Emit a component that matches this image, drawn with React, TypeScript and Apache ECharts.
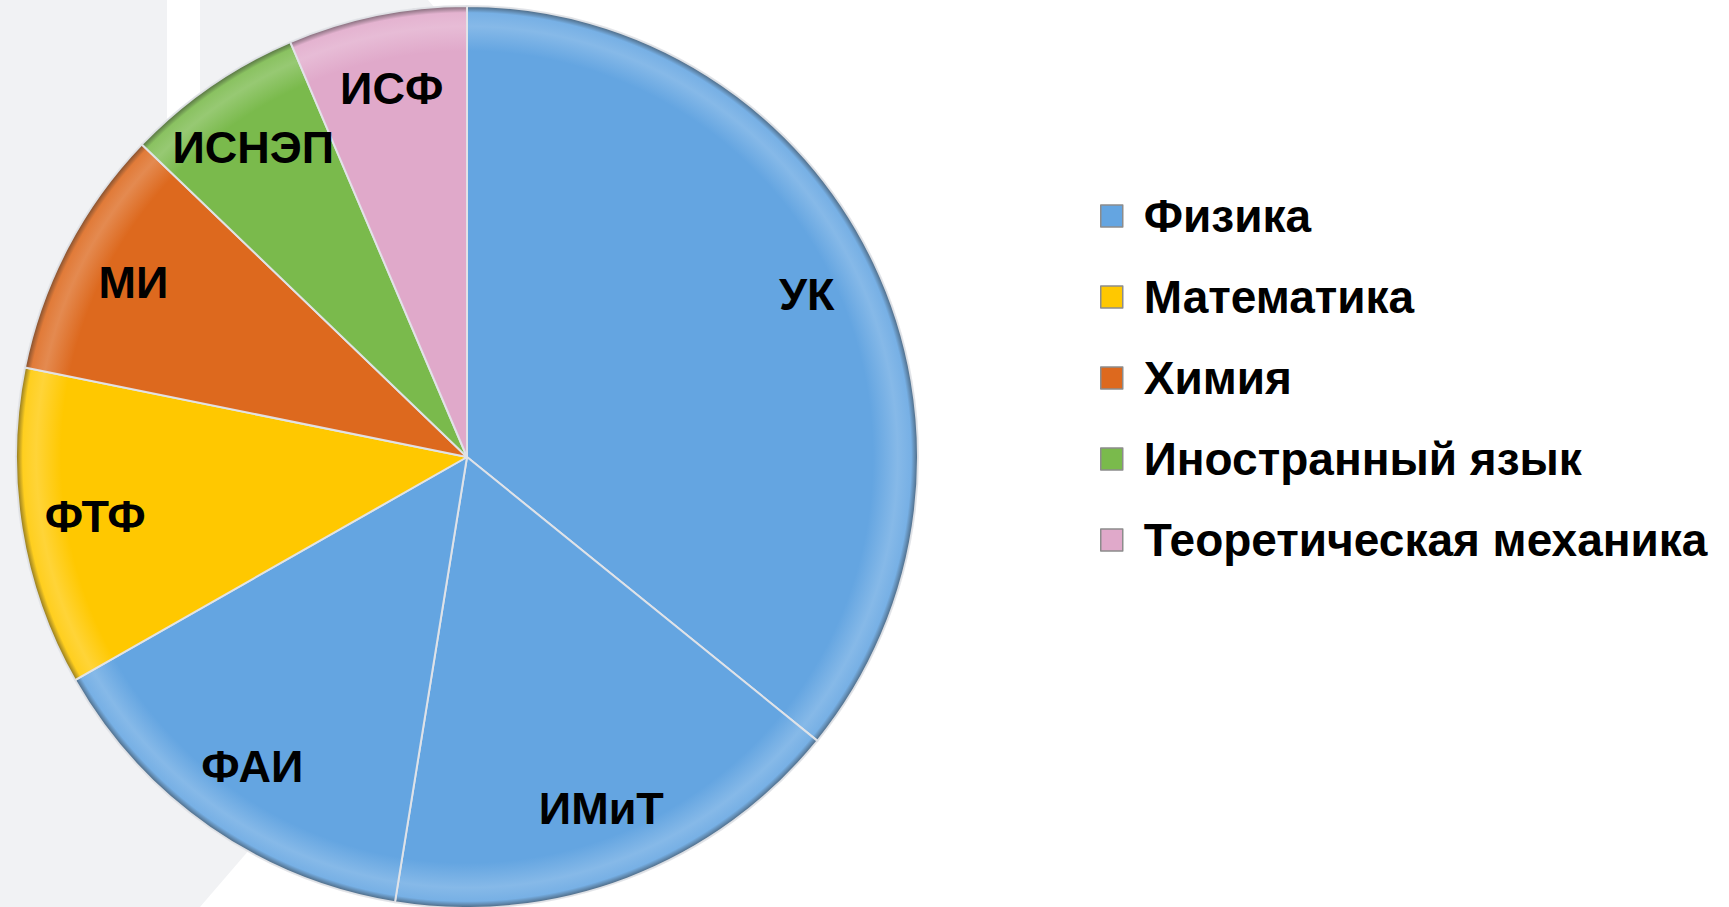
import React, { useEffect, useRef } from "react";
import * as echarts from "echarts";

// ---- data ----
const institutes = ["УК", "ИМиТ", "ФАИ", "ФТФ", "МИ", "ИСНЭП", "ИСФ"];
const shares = [35.8, 16.7, 14.2, 11.4, 9.0, 6.4, 6.4];
const subjects = ["Физика", "Математика", "Химия", "Иностранный язык", "Теоретическая механика"];
const subjectOfInstitute = [0, 0, 0, 1, 2, 3, 4];
const subjectColors = ["#64a5e1", "#ffc800", "#dd691e", "#7aba4c", "#e0a9ca"];

// ---- layout ----
const CX = 467;
const CY = 457;
const R = 451;

function mix(hex: string, target: number, amt: number) {
  const n = parseInt(hex.slice(1), 16);
  const r = (n >> 16) & 255, g = (n >> 8) & 255, b = n & 255;
  const f = (c: number) => Math.round(c + (target - c) * amt);
  return `rgb(${f(r)},${f(g)},${f(b)})`;
}

function bevel(base: string) {
  return {
    type: "radial",
    x: CX,
    y: CY,
    r: R,
    global: true,
    colorStops: [
      { offset: 0, color: base },
      { offset: 0.9, color: base },
      { offset: 0.955, color: mix(base, 255, 0.22) },
      { offset: 0.985, color: mix(base, 255, 0.12) },
      { offset: 1, color: mix(base, 60, 0.6) },
    ],
  };
}

export default function App() {
  const ref = useRef<HTMLDivElement>(null);

  useEffect(() => {
    if (!ref.current) return;
    const chart = echarts.init(ref.current, null, { renderer: "svg" });

    const mainData = shares.map((v, i) => ({
      name: subjects[subjectOfInstitute[i]],
      value: v,
      inst: institutes[i],
      itemStyle: { color: bevel(subjectColors[subjectOfInstitute[i]]) },
    }));
    const labelData = shares.map((v, i) => ({
      name: subjects[subjectOfInstitute[i]],
      value: v,
      inst: institutes[i],
      itemStyle: { color: "rgba(0,0,0,0)", borderWidth: 0 },
    }));

    chart.setOption({
      animation: false,
      backgroundColor: "#ffffff",
      graphic: [
        {
          type: "rect",
          z: 0,
          silent: true,
          shape: { x: 0, y: 0, width: 167, height: 907 },
          style: { fill: "#f1f2f4" },
        },
        {
          type: "polygon",
          z: 0,
          silent: true,
          shape: { points: [[167, 640], [430, 640], [200, 907], [167, 907]] },
          style: { fill: "#f1f2f4" },
        },
        {
          type: "polygon",
          z: 0,
          silent: true,
          shape: { points: [[200, 0], [428, 0], [442, 16], [200, 260]] },
          style: { fill: "#f1f2f4" },
        },
      ],
      legend: {
        orient: "vertical",
        left: 1095,
        top: 188,
        itemWidth: 22,
        itemHeight: 22,
        itemGap: 35,
        icon: "rect",
        selectedMode: false,
        data: subjects.map((s, i) => ({
          name: s,
          itemStyle: { color: subjectColors[i], borderColor: "#8c8c8c", borderWidth: 1.5 },
        })),
        textStyle: {
          fontSize: 46,
          fontWeight: "bold",
          fontFamily: "Liberation Sans",
          color: "#000000",
          lineHeight: 46,
          padding: [0, 0, 0, 16],
        },
      },
      series: [
        {
          type: "pie",
          name: "main",
          center: [CX, CY],
          radius: [0, R],
          startAngle: 90,
          clockwise: true,
          avoidLabelOverlap: false,
          label: { show: false },
          labelLine: { show: false },
          emphasis: { disabled: true },
          itemStyle: { borderColor: "rgba(225,228,232,0.95)", borderWidth: 2 },
          data: mainData,
          z: 2,
        },
        {
          type: "pie",
          name: "labels",
          center: [CX, CY],
          radius: [296, R],
          startAngle: 90,
          clockwise: true,
          silent: true,
          avoidLabelOverlap: false,
          emphasis: { disabled: true },
          labelLine: { show: false },
          label: {
            show: true,
            position: "inside",
            formatter: (p: any) => p.data.inst,
            fontSize: 45,
            fontWeight: "bold",
            fontFamily: "Liberation Sans",
            color: "#000000",
          },
          data: labelData,
          z: 3,
        },
      ],
    });

    return () => {
      chart.dispose();
    };
  }, []);

  return (
    <div
      ref={ref}
      style={{ position: "fixed", left: 0, top: 0, width: 1729, height: 907, background: "#fff" }}
    />
  );
}
